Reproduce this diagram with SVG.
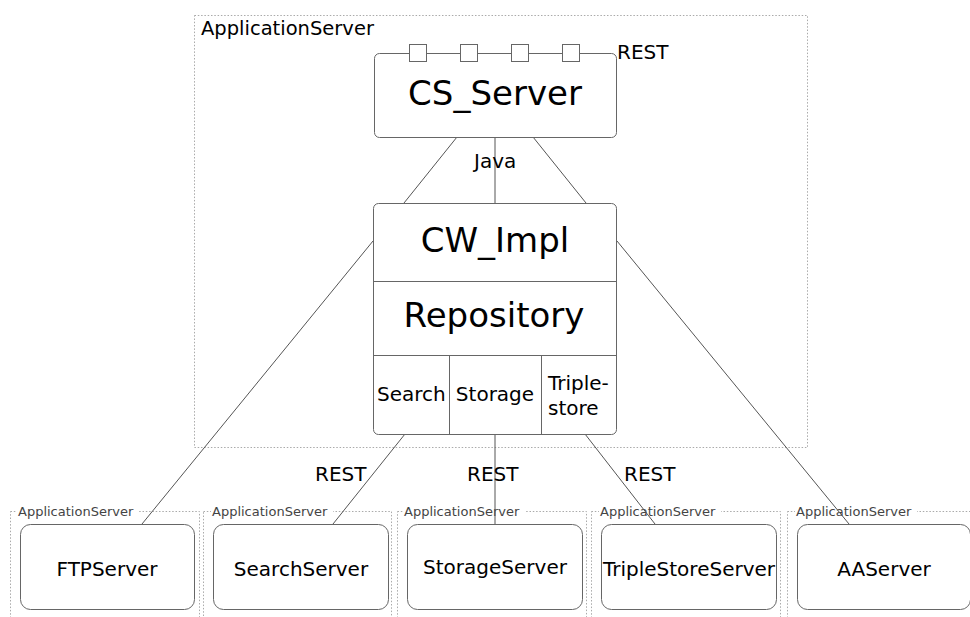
<svg xmlns="http://www.w3.org/2000/svg" width="970" height="617" viewBox="0 0 970 617">
  <style>
    text { font-family: "DejaVu Sans", "Liberation Sans", sans-serif; fill: #000; }
    .zone { fill: none; stroke: #aaa; stroke-width: 1; stroke-dasharray: 1.5 1.8; }
    .zone-label { font-size: 13px; fill: #444; }
    .zone-bg { fill: #fff; }
    .box { fill: #fff; stroke: #666; stroke-width: 1; }
    .div { stroke: #666; stroke-width: 1; fill: none; }
    .port { fill: #fff; stroke: #666; stroke-width: 1; }
    .wire { stroke: #555; stroke-width: 1; fill: none; }
    .big { font-size: 34px; text-anchor: middle; }
    .mid { font-size: 20px; }
    .c { text-anchor: middle; }
  </style>

  <!-- deployment zones -->
  <g id="zone-main">
    <rect class="zone" x="194.5" y="15.5" width="613" height="432"/>
    <text x="201" y="35" style="font-size:19.5px">ApplicationServer</text>
  </g>
  <g id="zone-ftp">
    <rect class="zone" x="10.5" y="511.5" width="189" height="120"/>
    <rect class="zone-bg" x="17" y="505" width="122" height="12"/>
    <text class="zone-label" x="18" y="516">ApplicationServer</text>
  </g>
  <g id="zone-search">
    <rect class="zone" x="203.5" y="511.5" width="188" height="120"/>
    <rect class="zone-bg" x="211" y="505" width="122" height="12"/>
    <text class="zone-label" x="212" y="516">ApplicationServer</text>
  </g>
  <g id="zone-storage">
    <rect class="zone" x="397.5" y="511.5" width="189" height="120"/>
    <rect class="zone-bg" x="403" y="505" width="122" height="12"/>
    <text class="zone-label" x="404" y="516">ApplicationServer</text>
  </g>
  <g id="zone-triple">
    <rect class="zone" x="591.5" y="511.5" width="189" height="120"/>
    <rect class="zone-bg" x="599" y="505" width="122" height="12"/>
    <text class="zone-label" x="600" y="516">ApplicationServer</text>
  </g>
  <g id="zone-aa">
    <rect class="zone" x="787.5" y="511.5" width="189" height="120"/>
    <rect class="zone-bg" x="795" y="505" width="122" height="12"/>
    <text class="zone-label" x="796" y="516">ApplicationServer</text>
  </g>

  <!-- connectors -->
  <g id="connectors">
    <line class="wire" x1="457" y1="137" x2="404" y2="203"/>
    <line class="wire" x1="495" y1="137" x2="495" y2="203"/>
    <line class="wire" x1="533" y1="137" x2="586" y2="203"/>
    <text class="mid" x="474" y="168">Java</text>

    <line class="wire" x1="373" y1="241" x2="142" y2="524"/>
    <line class="wire" x1="617" y1="241" x2="849" y2="524"/>

    <line class="wire" x1="405" y1="434" x2="333" y2="524"/>
    <line class="wire" x1="495" y1="434" x2="495" y2="524"/>
    <line class="wire" x1="585" y1="434" x2="655" y2="524"/>
    <text class="mid" x="315" y="481">REST</text>
    <text class="mid" x="467" y="481">REST</text>
    <text class="mid" x="624" y="481">REST</text>
  </g>

  <!-- CS_Server with REST ports -->
  <g id="cs-server">
    <rect class="box" x="374.5" y="53.5" width="242" height="84" rx="5"/>
    <rect class="port" x="409.5" y="44.5" width="17" height="17"/>
    <rect class="port" x="460.5" y="44.5" width="17" height="17"/>
    <rect class="port" x="511.5" y="44.5" width="17" height="17"/>
    <rect class="port" x="562.5" y="44.5" width="17" height="17"/>
    <text class="big" x="495" y="105">CS_Server</text>
    <text class="mid" x="617" y="59">REST</text>
  </g>

  <!-- CW_Impl / Repository stack -->
  <g id="cw-impl">
    <rect class="box" x="373.5" y="203.5" width="243" height="231" rx="5"/>
    <line class="div" x1="373.5" y1="281.5" x2="616.5" y2="281.5"/>
    <line class="div" x1="373.5" y1="355.5" x2="616.5" y2="355.5"/>
    <line class="div" x1="449.5" y1="355.5" x2="449.5" y2="434.5"/>
    <line class="div" x1="541.5" y1="355.5" x2="541.5" y2="434.5"/>
    <text class="big" x="495" y="252">CW_Impl</text>
    <text class="big" x="494" y="327">Repository</text>
    <text class="mid" x="377" y="401">Search</text>
    <text class="mid c" x="495" y="401">Storage</text>
    <text class="mid" x="548" y="390">Triple-</text>
    <text class="mid" x="548" y="415">store</text>
  </g>

  <!-- backend servers -->
  <g id="ftp-server">
    <rect class="box" x="20.5" y="524.5" width="174" height="85" rx="10"/>
    <text class="mid c" x="107" y="576">FTPServer</text>
  </g>
  <g id="search-server">
    <rect class="box" x="213.5" y="524.5" width="175" height="85" rx="10"/>
    <text class="mid c" x="301" y="576">SearchServer</text>
  </g>
  <g id="storage-server">
    <rect class="box" x="407.5" y="524.5" width="175" height="85" rx="10"/>
    <text class="mid c" x="495" y="574">StorageServer</text>
  </g>
  <g id="triplestore-server">
    <rect class="box" x="601.5" y="524.5" width="175" height="85" rx="10"/>
    <text class="mid c" x="689" y="576">TripleStoreServer</text>
  </g>
  <g id="aa-server">
    <rect class="box" x="797.5" y="524.5" width="173" height="85" rx="10"/>
    <text class="mid c" x="884" y="576">AAServer</text>
  </g>
</svg>
